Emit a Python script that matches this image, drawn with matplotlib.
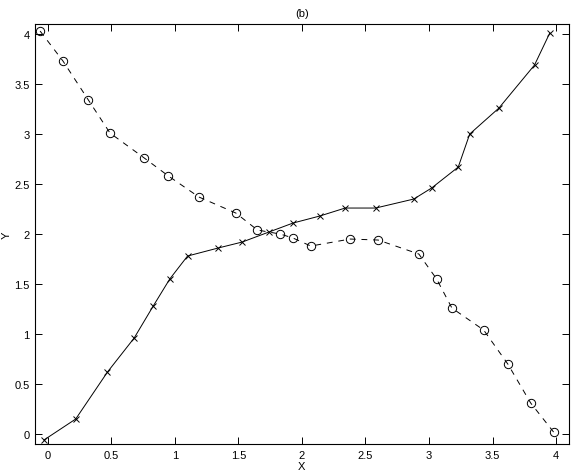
import matplotlib
matplotlib.use('Agg')
import matplotlib.pyplot as plt

# crosses, solid line
x_solid = [-0.03, 0.22, 0.47, 0.68, 0.83, 0.96, 1.10, 1.34, 1.53, 1.74, 1.93,
           2.14, 2.34, 2.58, 2.88, 3.02, 3.23, 3.32, 3.55, 3.83, 3.95]
y_solid = [-0.06, 0.15, 0.62, 0.96, 1.28, 1.55, 1.78, 1.86, 1.92, 2.02, 2.11,
           2.18, 2.26, 2.26, 2.35, 2.46, 2.67, 3.00, 3.26, 3.69, 4.01]

# circles, dashed line
x_dash = [-0.06, 0.12, 0.32, 0.49, 0.76, 0.95, 1.19, 1.48, 1.65, 1.83, 1.93,
          2.07, 2.38, 2.60, 2.92, 3.06, 3.18, 3.43, 3.62, 3.80, 3.98]
y_dash = [4.03, 3.73, 3.34, 3.01, 2.76, 2.58, 2.37, 2.21, 2.04, 2.00, 1.96,
          1.88, 1.95, 1.94, 1.80, 1.55, 1.26, 1.04, 0.70, 0.31, 0.02]

xticks = [0, 0.5, 1, 1.5, 2, 2.5, 3, 3.5, 4]
xticklabels = ['0', '0.5', '1', '1.5', '2', '2.5', '3', '3.5', '4']
yticks = [0, 0.5, 1, 1.5, 2, 2.5, 3, 3.5, 4]
yticklabels = ['0', '0.5', '1', '1.5', '2', '2.5', '3', '3.5', '4']

plt.rcParams['font.family'] = ['Liberation Sans', 'DejaVu Sans']

fig = plt.figure(figsize=(5.74, 4.77), dpi=100)
ax = fig.add_axes([0.061, 0.067, 0.930, 0.8805])

ax.plot(x_solid, y_solid, color='black', linewidth=0.7, marker='x',
        markersize=4.5, markeredgewidth=0.7)
ax.plot(x_dash, y_dash, color='black', linewidth=0.7, linestyle=(0, (6, 6)),
        marker='o', markersize=6, markerfacecolor='none', markeredgewidth=0.7)

ax.set_xlim(-0.1, 4.1)
ax.set_ylim(-0.1, 4.1)
ax.set_xticks(xticks)
ax.set_xticklabels(xticklabels)
ax.set_yticks(yticks)
ax.set_yticklabels(yticklabels)
ax.tick_params(direction='in', top=True, right=True, length=5, width=0.7,
               labelsize=8, pad=4)
for s in ax.spines.values():
    s.set_linewidth(0.8)

ax.set_title('(b)', fontsize=8, pad=6)
ax.set_xlabel('X', fontsize=8, labelpad=1)
ax.set_ylabel('Y', fontsize=8, va='center')
ax.yaxis.set_label_coords(-0.054, 0.5)

fig.savefig('out.png', dpi=100)
